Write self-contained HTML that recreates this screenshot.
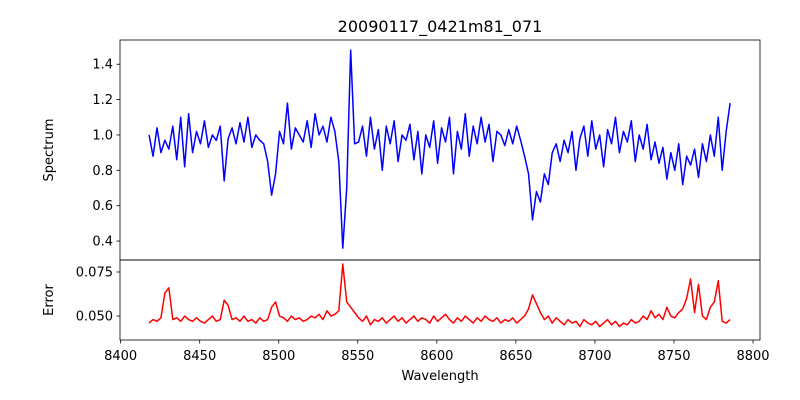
<!DOCTYPE html>
<html><head><meta charset="utf-8"><style>
body{margin:0;background:#fff}
svg{display:block;font-family:"DejaVu Sans","Liberation Sans",sans-serif}
</style></head><body>
<svg id="fig" width="800" height="400" viewBox="0 0 800 400">
<rect width="800" height="400" fill="#fff"/>
<text x="440" y="32" font-size="16" text-anchor="middle">20090117_0421m81_071</text>
<g id="topPanel"></g>
<g id="botPanel"></g>
<text transform="translate(53,150) rotate(-90)" font-size="13" text-anchor="middle">Spectrum</text>
<text transform="translate(53,300) rotate(-90)" font-size="13" text-anchor="middle">Error</text>
<text x="440" y="380" font-size="13" text-anchor="middle">Wavelength</text>
</svg>
<script>
const waveStart = 8418;
const waveStep = 2.5;
const spectrum = [1.00,0.88,1.04,0.90,0.97,0.92,1.05,0.86,1.10,0.82,1.12,0.90,1.02,0.95,1.08,0.93,1.00,0.97,1.05,0.74,
0.98,1.04,0.95,1.07,0.96,1.10,0.93,1.00,0.97,0.95,0.85,0.66,
0.78,1.02,0.95,1.18,0.92,1.04,1.00,0.96,1.08,0.93,1.12,1.00,1.05,0.96,1.10,1.02,0.85,
0.36,0.70,1.48,0.95,
0.96,1.05,0.88,1.10,0.92,1.03,0.80,1.05,0.95,1.08,0.85,1.00,0.97,1.06,0.86,1.02,0.78,1.00,0.93,1.08,0.84,1.04,0.96,1.10,0.78,1.02,0.92,1.12,0.88,1.05,0.95,1.10,0.96,1.06,0.85,1.02,1.00,0.94,
1.03,0.95,1.05,0.97,0.88,0.78,
0.52,0.68,0.62,0.78,0.72,0.90,0.95,0.85,
0.97,0.90,1.02,0.80,0.98,1.05,0.88,1.08,0.92,1.00,0.82,1.03,0.95,1.10,0.90,1.02,0.96,1.08,0.85,1.00,0.92,1.06,0.86,0.96,
0.84,0.93,0.75,0.90,0.80,0.95,0.72,0.88,0.83,0.92,0.76,0.95,0.85,1.00,0.88,1.10,0.80,1.02,1.18];
const errorVals = [.046,.048,.047,.049,.063,.066,.048,.049,.047,.050,.048,.047,.049,.047,.046,.048,.050,.047,.048,.059,
.056,.048,.049,.047,.050,.047,.048,.046,.049,.047,.048,.055,
.058,.050,.049,.047,.050,.048,.049,.047,.048,.050,.049,.051,.048,.053,.050,.051,.053,
.0795,.058,.055,.052,
.049,.047,.050,.045,.048,.047,.049,.046,.048,.050,.047,.049,.046,.048,.050,.047,.049,.048,.046,.050,.047,.049,.051,.048,.046,.049,.047,.050,.048,.046,.049,.047,.050,.048,.047,.049,.046,.048,
.047,.049,.046,.048,.050,.054,
.062,.057,.052,.048,.050,.046,.049,.047,
.045,.048,.046,.047,.044,.048,.046,.045,.047,.044,.046,.048,.045,.047,.044,.046,.045,.048,.046,.047,.050,.048,.053,.049,
.051,.048,.055,.050,.049,.052,.054,.060,.071,.052,.068,.050,.048,.055,.058,.070,.047,.046,.048];
const xTicks = [8400,8450,8500,8550,8600,8650,8700,8750,8800];
const specTicks = [0.4,0.6,0.8,1.0,1.2,1.4];
const errTicks = [0.050,0.075];

const NS='http://www.w3.org/2000/svg';
const L=120,R=760;
const xmin=8399.6,xmax=8804.4;
const X=v=>L+(v-xmin)/(xmax-xmin)*(R-L);
const Ys=v=>260-(v-0.293)/(1.537-0.293)*220;
const Ye=v=>340-(v-0.0364)/(0.0818-0.0364)*80;
function mk(p,tag,a){const e=document.createElementNS(NS,tag);for(const k in a)e.setAttribute(k,a[k]);p.appendChild(e);return e;}
const gTop=document.getElementById('topPanel'),gBot=document.getElementById('botPanel');

function drawLine(g,vals,Y,color,name){
  let d='';vals.forEach((v,i)=>{d+=(i?'L':'M')+X(waveStart+i*waveStep).toFixed(2)+','+Y(v).toFixed(2);});
  const p=mk(g,'path',{d:d,fill:'none',stroke:color,'stroke-width':1.5,'stroke-linejoin':'round'});
  
  
}
drawLine(gTop,spectrum,Ys,'#0000ff','spectrum-line');
drawLine(gBot,errorVals,Ye,'#ff0000','error-line');

const f1=mk(gTop,'rect',{x:L,y:40,width:R-L,height:220,fill:'none',stroke:'#000','stroke-width':0.8});


const f2=mk(gBot,'rect',{x:L,y:260,width:R-L,height:80,fill:'none',stroke:'#000','stroke-width':0.8});



specTicks.forEach(v=>{
  const y=Ys(v);
  const t=mk(gTop,'line',{x1:L-3.5,x2:L,y1:y,y2:y,stroke:'#000','stroke-width':0.8});
  
  
  const tx=mk(gTop,'text',{x:L-7,y:y+4.5,'font-size':13,'text-anchor':'end'});
  tx.textContent=v.toFixed(1);
  
  
});
errTicks.forEach(v=>{
  const y=Ye(v);
  const t=mk(gBot,'line',{x1:L-3.5,x2:L,y1:y,y2:y,stroke:'#000','stroke-width':0.8});
  
  
  const tx=mk(gBot,'text',{x:L-7,y:y+4.5,'font-size':13,'text-anchor':'end'});
  tx.textContent=v.toFixed(3);
  
  
});
xTicks.forEach(v=>{
  const x=X(v);
  const t=mk(gBot,'line',{x1:x,x2:x,y1:340,y2:343.5,stroke:'#000','stroke-width':0.8});
  
  
  const tx=mk(gBot,'text',{x:x,y:360,'font-size':13,'text-anchor':'middle'});
  tx.textContent=v;
  
  
});
</script>
</body></html>
